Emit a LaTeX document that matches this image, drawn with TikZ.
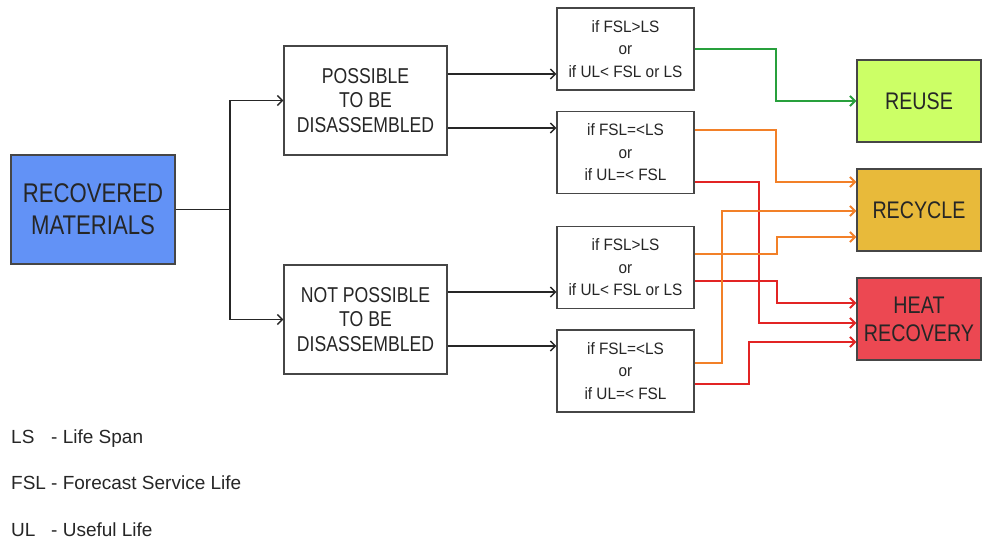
\documentclass[tikz,border=0pt]{standalone}
\usepackage{fontspec}
\setmainfont{Liberation Sans}
\newfontfamily\capsfont[FakeStretch=0.82]{Liberation Sans}
\newfontfamily\mixfont[FakeStretch=0.93]{Liberation Sans}
\usetikzlibrary{arrows.meta}
\definecolor{bluefill}{RGB}{98,146,246}
\definecolor{reusefill}{RGB}{204,255,102}
\definecolor{recyclefill}{RGB}{232,186,58}
\definecolor{heatfill}{RGB}{236,72,82}
\definecolor{boxline}{RGB}{70,70,70}
\definecolor{gline}{RGB}{40,160,60}
\definecolor{oline}{RGB}{242,128,40}
\definecolor{rline}{RGB}{226,36,36}
\tikzset{
  box/.style={draw=boxline, line width=1.3pt, inner sep=0pt, align=center, text=black!85},
  bigbox/.style={box, minimum width=164pt, minimum height=109pt, font=\capsfont\fontsize{27}{32}\selectfont},
  midbox/.style={box, minimum width=163pt, minimum height=109pt, font=\capsfont\fontsize{21.5}{24.5}\selectfont},
  condbox/.style={box, minimum width=137pt, minimum height=82pt, font=\mixfont\fontsize{16.5}{22.5}\selectfont},
  outbox/.style={box, minimum width=124pt, minimum height=82pt, font=\capsfont\fontsize{24}{28}\selectfont},
  legend/.style={anchor=base west, inner sep=0pt, font=\fontsize{19}{22}\selectfont, text=black!85},
  arr/.style={-{Straight Barb[length=5pt,width=10pt]}},
  conn/.style={line width=1.4pt, draw=black!85},
  gconn/.style={line width=2pt, draw=gline, arr},
  oconn/.style={line width=2pt, draw=oline, arr},
  rconn/.style={line width=2pt, draw=rline, arr}
}
\begin{document}
\begin{tikzpicture}[x=1pt,y=-1pt]
\useasboundingbox[fill=white] (0,0) rectangle (982,542);

\node[bigbox, fill=bluefill] (rm) at (93,209.5) {RECOVERED\\MATERIALS};
\node[midbox] (pos) at (365.5,100.5) {POSSIBLE\\TO BE\\DISASSEMBLED};
\node[midbox] (np) at (365.5,319.5) {NOT POSSIBLE\\TO BE\\DISASSEMBLED};

\node[condbox] (c1) at (625.5,49) {if FSL>LS\\or\\if UL< FSL or LS};
\node[condbox] (c2) at (625.5,152.5) {if FSL=<LS\\or\\if UL=< FSL};
\node[condbox] (c3) at (625.5,267.5) {if FSL>LS\\or\\if UL< FSL or LS};
\node[condbox] (c4) at (625.5,371) {if FSL=<LS\\or\\if UL=< FSL};

\node[outbox, fill=reusefill] (reuse) at (919,101) {REUSE};
\node[outbox, fill=recyclefill] (recycle) at (919,210) {RECYCLE};
\node[outbox, fill=heatfill] (heat) at (919,319) {HEAT\\RECOVERY};

\coordinate (split) at (230,209.5);
\draw[conn] (rm.east) -- (split);
\draw[conn, arr] (split) |- (pos.west);
\draw[conn, arr] (split) |- (np.west);

\draw[conn, arr] ([yshift=26.5pt]pos.east) -- ([yshift=26.5pt]pos.east -| c1.west);
\draw[conn, arr] ([yshift=-27.5pt]pos.east) -- ([yshift=-27.5pt]pos.east -| c2.west);
\draw[conn, arr] ([yshift=27.5pt]np.east) -- ([yshift=27.5pt]np.east -| c3.west);
\draw[conn, arr] ([yshift=-26.5pt]np.east) -- ([yshift=-26.5pt]np.east -| c4.west);

\draw[gconn] (c1.east) -- ++(81,0) |- (reuse.west);
\draw[oconn] ([yshift=22.5pt]c2.east) -- ++(81,0) |- ([yshift=28pt]recycle.west);
\draw[rconn] ([yshift=-29.5pt]c2.east) -- ++(64,0) |- ([yshift=-4pt]heat.west);
\draw[oconn] ([yshift=13.5pt]c3.east) -- ++(82,0) |- ([yshift=-27pt]recycle.west);
\draw[rconn] ([yshift=-13.5pt]c3.east) -- ++(82,0) |- ([yshift=16pt]heat.west);
\draw[oconn] ([yshift=8pt]c4.east) -- ++(27,0) |- ([yshift=-1pt]recycle.west);
\draw[rconn] ([yshift=-13pt]c4.east) -- ++(54,0) |- ([yshift=-23pt]heat.west);

\node[legend] (ls) at (11,443) {LS};
\node[legend] (lsd) at (51,443) {- Life Span};
\node[legend] (fsl) at (11,489) {FSL};
\node[legend] (fsld) at (51,489) {- Forecast Service Life};
\node[legend] (ul) at (11,536) {UL};
\node[legend] (uld) at (51,536) {- Useful Life};
\end{tikzpicture}
\end{document}
